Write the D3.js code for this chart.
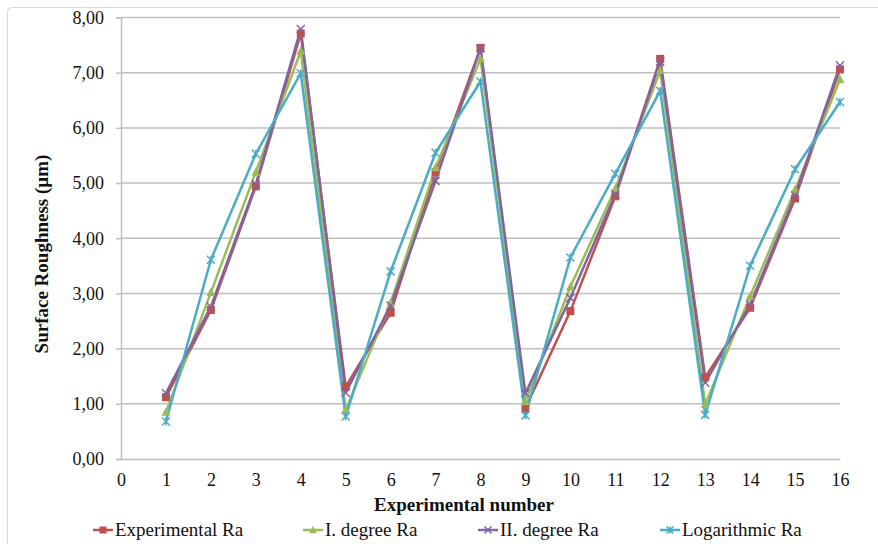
<!DOCTYPE html>
<html>
<head>
<meta charset="utf-8">
<script src="https://cdn.jsdelivr.net/npm/d3@7"></script>
<style>
  body { margin: 0; background: #fff; }
  svg { display: block; }
  svg text { font-family: "Liberation Serif", "DejaVu Serif", "Times New Roman", serif; }
</style>
</head>
<body>
<svg id="chart" width="878" height="544"></svg>
<script>
// experiment numbers 1..16
const experiments = d3.range(1, 17);
const experimentalRa = [1.12, 2.70, 4.94, 7.71, 1.31, 2.65, 5.20, 7.45, 0.92, 2.68, 4.76, 7.25, 1.48, 2.74, 4.72, 7.06];
const firstDegreeRa = [0.85, 3.02, 5.20, 7.39, 0.89, 2.83, 5.28, 7.25, 1.04, 3.12, 4.90, 7.04, 0.99, 2.95, 4.88, 6.88];
const secondDegreeRa = [1.19, 2.76, 4.98, 7.79, 1.20, 2.78, 5.04, 7.44, 1.19, 2.92, 4.80, 7.20, 1.38, 2.80, 4.78, 7.13];
const logarithmicRa = [0.68, 3.61, 5.53, 6.99, 0.77, 3.40, 5.55, 6.84, 0.79, 3.65, 5.17, 6.67, 0.80, 3.50, 5.25, 6.47];
const yTicks = [0, 1, 2, 3, 4, 5, 6, 7, 8];
const xTicks = d3.range(0, 17);

const seriesList = [
  { name: "Experimental Ra", values: experimentalRa, color: "#C0504D", marker: "square" },
  { name: "I. degree Ra", values: firstDegreeRa, color: "#9BBB59", marker: "triangle" },
  { name: "II. degree Ra", values: secondDegreeRa, color: "#8064A2", marker: "cross" },
  { name: "Logarithmic Ra", values: logarithmicRa, color: "#4BACC6", marker: "star" }
];

const serif = '"Liberation Serif", "DejaVu Serif", serif';
const svg = d3.select("#chart");

// outer frame
svg.append("rect")
  .attr("x", 7.5).attr("y", 7.5)
  .attr("width", 890).attr("height", 560)
  .attr("rx", 4)
  .attr("fill", "#fff")
  .attr("stroke", "#D9D9D9");

const x = d3.scaleLinear().domain([0, 16]).range([121, 840]);
const y = d3.scaleLinear().domain([0, 8]).range([459, 17.5]);

const fmt = v => d3.format(".2f")(v).replace(".", ",");

// gridlines
svg.append("g")
  .selectAll("line")
  .data(yTicks.filter(d => d > 0))
  .enter().append("line")
  .attr("x1", x(0)).attr("x2", x(16))
  .attr("y1", d => y(d)).attr("y2", d => y(d))
  .attr("stroke", "#BFBFBF")
  .attr("stroke-width", 1.5);

// y axis
const yAxis = d3.axisLeft(y).tickValues(yTicks).tickFormat(fmt).tickSize(5).tickPadding(12);
const gy = svg.append("g")
  .attr("transform", `translate(${x(0)},0)`)
  .call(yAxis)
  .attr("font-family", null);
gy.select(".domain").attr("stroke", "#BFBFBF").attr("stroke-width", 1.5);
gy.selectAll(".tick line").attr("stroke", "#BFBFBF").attr("stroke-width", 1.5);
gy.selectAll("text")
  .style("font-family", serif)
  .attr("font-size", 18)
  .attr("fill", "#111");

// x axis
const xAxis = d3.axisBottom(x).tickValues(xTicks).tickFormat(d3.format("d")).tickSize(0).tickPadding(14);
const gx = svg.append("g")
  .attr("transform", `translate(0,${y(0)})`)
  .call(xAxis)
  .attr("font-family", null);
gx.select(".domain").attr("stroke", "#BFBFBF").attr("stroke-width", 1.5);
gx.selectAll("text")
  .style("font-family", serif)
  .attr("font-size", 18)
  .attr("fill", "#111");

// axis titles
svg.append("text")
  .attr("x", 464).attr("y", 511)
  .attr("text-anchor", "middle")
  .style("font-family", serif)
  .attr("font-size", 19)
  .attr("font-weight", "bold")
  .attr("fill", "#111")
  .text("Experimental number");

svg.append("text")
  .attr("transform", "translate(48,254) rotate(-90)")
  .attr("text-anchor", "middle")
  .style("font-family", serif)
  .attr("font-size", 19)
  .attr("font-weight", "bold")
  .attr("fill", "#111")
  .text("Surface Roughness (\u00B5m)");

// marker drawing helper
function drawMarker(g, type, color, s) {
  if (type === "square") {
    g.append("rect").attr("x", -s / 2).attr("y", -s / 2).attr("width", s).attr("height", s).attr("fill", color);
  } else if (type === "triangle") {
    g.append("path").attr("d", `M0,${-s * 0.6}L${s * 0.55},${s * 0.45}L${-s * 0.55},${s * 0.45}Z`).attr("fill", color);
  } else if (type === "cross") {
    g.append("path").attr("d", `M${-s / 2},${-s / 2}L${s / 2},${s / 2}M${-s / 2},${s / 2}L${s / 2},${-s / 2}`)
      .attr("stroke", color).attr("stroke-width", 1.5);
  } else {
    g.append("path").attr("d", `M${-s / 2},${-s / 2}L${s / 2},${s / 2}M${-s / 2},${s / 2}L${s / 2},${-s / 2}M0,${-s / 2}L0,${s / 2}`)
      .attr("stroke", color).attr("stroke-width", 1.5);
  }
}

const line = d3.line()
  .x((d, i) => x(experiments[i]))
  .y(d => y(d));

seriesList.forEach(s => {
  svg.append("path")
    .datum(s.values)
    .attr("fill", "none")
    .attr("stroke", s.color)
    .attr("stroke-width", 2.5)
    .attr("stroke-linejoin", "round")
    .attr("d", line);
});

seriesList.forEach(s => {
  svg.append("g")
    .selectAll("g")
    .data(s.values)
    .enter().append("g")
    .attr("transform", (d, i) => `translate(${x(experiments[i])},${y(d)})`)
    .each(function () { drawMarker(d3.select(this), s.marker, s.color, 8); });
});

// legend
const legendX = [93, 303, 478, 660];
const legend = svg.append("g").attr("transform", "translate(0,530)");
seriesList.forEach((s, i) => {
  const item = legend.append("g").attr("transform", `translate(${legendX[i]},0)`);
  item.append("line")
    .attr("x1", 0).attr("x2", 20)
    .attr("stroke", s.color).attr("stroke-width", 2.5);
  drawMarker(item.append("g").attr("transform", "translate(10,0)"), s.marker, s.color, 7);
  item.append("text")
    .attr("x", 22).attr("y", 6)
    .style("font-family", serif)
    .attr("font-size", 19)
    .attr("fill", "#111")
    .text(s.name);
});
</script>
</body>
</html>
